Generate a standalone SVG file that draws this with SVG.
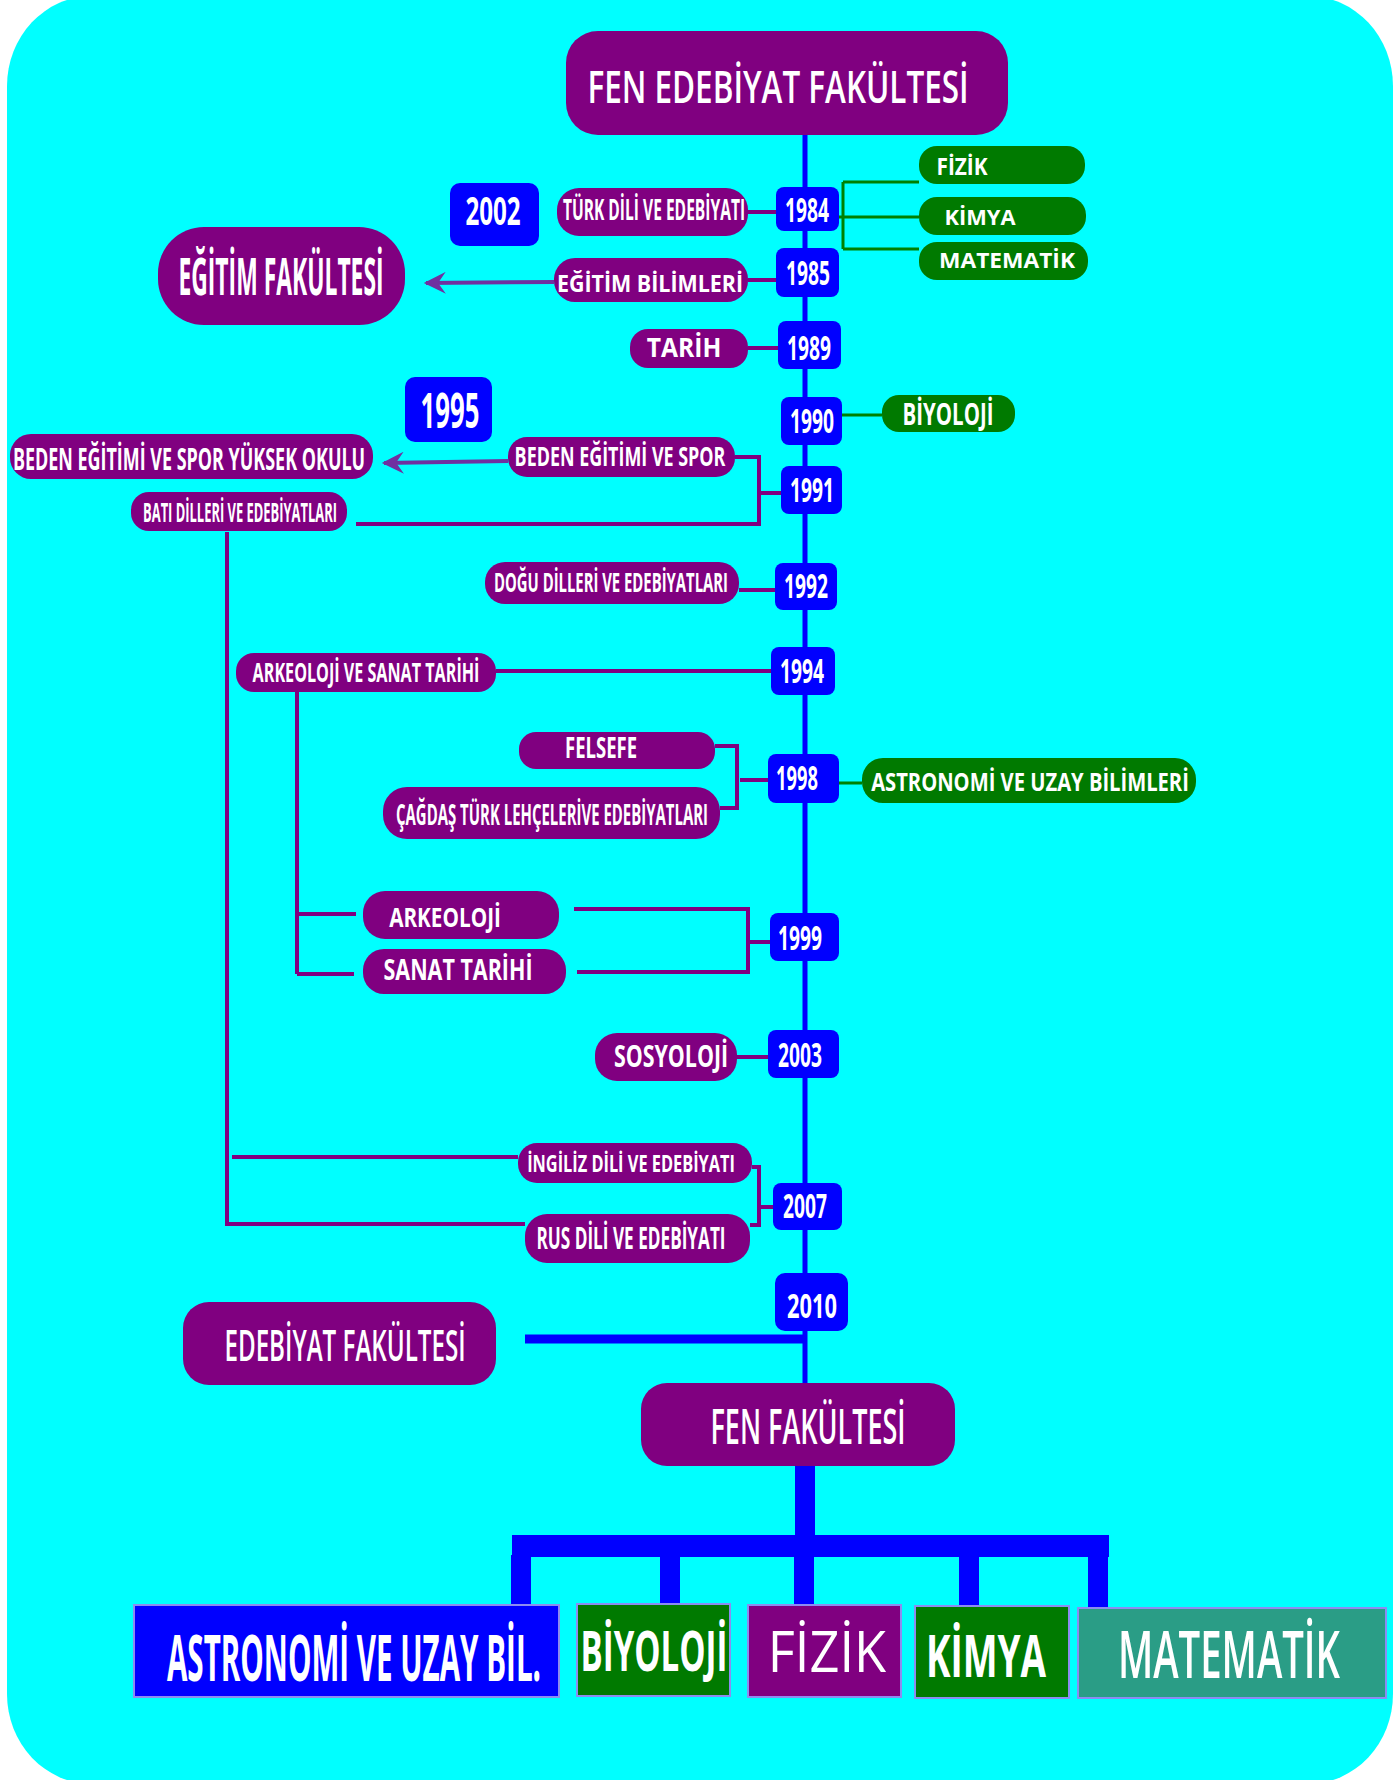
<svg xmlns="http://www.w3.org/2000/svg" width="1395" height="1780" viewBox="0 0 1395 1780">
<style>
.p{fill:#800080}
.g{fill:#007A00}
.b{fill:#0000FF}
.t{font-family:"Open Sans","Liberation Sans",sans-serif;font-weight:bold;fill:#fff;text-anchor:middle}
.n{font-weight:normal}
.m{font-weight:600}
.y{font-family:"Open Sans","Liberation Sans",sans-serif;font-weight:bold;fill:#fff;text-anchor:middle;font-size:34px}
.pl{stroke:#800080;stroke-width:4;fill:none}
.gl{stroke:#008000;stroke-width:3;fill:none}
.ar{stroke:#7030A0;stroke-width:4;fill:none}
.bx{stroke:#8C8CF0;stroke-width:2}
</style>
<defs>
<marker id="ah" viewBox="0 0 10 10" refX="9" refY="5" markerWidth="7.5" markerHeight="5.5" markerUnits="strokeWidth" orient="auto">
<path d="M10,5 L0,0 L3.5,5 L0,10 Z" fill="#7030A0"/>
</marker>
</defs>
<rect x="0" y="0" width="1395" height="1780" fill="#fff"/>
<rect x="7" y="-4" width="1386" height="1788" rx="85" ry="90" fill="#00FFFF"/>

<g id="connectors">
<line x1="805" y1="134" x2="805" y2="1385" stroke="#0000FF" stroke-width="5"/>
<path class="pl" d="M748,212 H776 M748,280 H776 M748,348 H778 M739,590 H775 M496,671 H771 M737,1057 H768"/>
<path class="pl" d="M735,457 H759 V524 H356 M759,493 H781"/>
<path class="pl" d="M227,532 V1224 H525 M232,1157 H518"/>
<path class="pl" d="M715,746 H737 V808 H720 M740,780 H768"/>
<path class="pl" d="M297,692 V974 M297,914 H356 M297,974 H354"/>
<path class="pl" d="M574,909 H748 V972 H577 M748,942 H770"/>
<path class="pl" d="M752,1167 H759 V1225 H750 M759,1207 H773"/>
<path class="gl" d="M843,182 V249 M843,182 H919 M839,217 H919 M843,249 H919"/>
<path class="gl" stroke-width="4" d="M842,415 H882 M839,783 H862"/>
<path class="ar" d="M554,282 L426,283" marker-end="url(#ah)"/>
<path class="ar" d="M508,461 L384,463" marker-end="url(#ah)"/>
<line x1="525" y1="1339" x2="805" y2="1339" stroke="#0000FF" stroke-width="9"/>
<rect x="795" y="1464" width="20" height="72" fill="#0000FF"/>
<rect x="512" y="1535" width="597" height="22" fill="#0000FF"/>
<rect x="511" y="1555" width="20" height="50" fill="#0000FF"/>
<rect x="660" y="1555" width="20" height="49" fill="#0000FF"/>
<rect x="794" y="1555" width="20" height="50" fill="#0000FF"/>
<rect x="959" y="1555" width="20" height="51" fill="#0000FF"/>
<rect x="1088" y="1555" width="20" height="53" fill="#0000FF"/>
</g>

<g id="n-fen-edebiyat"><rect class="p" x="566" y="31" width="442" height="104" rx="32"/><text class="t m" transform="translate(778,103) scale(0.61,1)" font-size="46" textLength="625" lengthAdjust="spacingAndGlyphs">FEN EDEBİYAT FAKÜLTESİ</text></g>

<g id="n-2002"><rect class="b" x="450" y="183" width="89" height="63" rx="10"/><text class="t" transform="translate(493,225) scale(0.6,1)" font-size="40" textLength="92" lengthAdjust="spacingAndGlyphs">2002</text></g>
<g id="n-1995"><rect class="b" x="405" y="377" width="87" height="65" rx="10"/><text class="t" transform="translate(450,428) scale(0.54,1)" font-size="48" textLength="109" lengthAdjust="spacingAndGlyphs">1995</text></g>

<g id="n-turk"><rect class="p" x="557" y="188" width="191" height="48" rx="22"/><text class="t" transform="translate(654,220) scale(0.46,1)" font-size="29" textLength="396" lengthAdjust="spacingAndGlyphs">TÜRK DİLİ VE EDEBİYATI</text></g>
<g id="n-egitim-bil"><rect class="p" x="554" y="258" width="194" height="44" rx="21"/><text class="t" transform="translate(650,292) scale(0.82,1)" font-size="23" textLength="227" lengthAdjust="spacingAndGlyphs">EĞİTİM BİLİMLERİ</text></g>
<g id="n-egitim-fak"><rect class="p" x="158" y="227" width="247" height="98" rx="46"/><text class="t" transform="translate(281,295) scale(0.4,1)" font-size="52" textLength="513" lengthAdjust="spacingAndGlyphs">EĞİTİM FAKÜLTESİ</text></g>
<g id="n-tarih"><rect class="p" x="630" y="329" width="118" height="39" rx="18"/><text class="t" transform="translate(684,357) scale(0.9,1)" font-size="27" textLength="83" lengthAdjust="spacingAndGlyphs">TARİH</text></g>
<g id="n-beden"><rect class="p" x="508" y="437" width="227" height="40" rx="19"/><text class="t" transform="translate(620,466) scale(0.62,1)" font-size="26" textLength="340" lengthAdjust="spacingAndGlyphs">BEDEN EĞİTİMİ VE SPOR</text></g>
<g id="n-beden-yo"><rect class="p" x="10" y="434" width="363" height="45" rx="21"/><text class="t" transform="translate(189,470) scale(0.56,1)" font-size="30" textLength="629" lengthAdjust="spacingAndGlyphs">BEDEN EĞİTİMİ VE SPOR YÜKSEK OKULU</text></g>
<g id="n-bati"><rect class="p" x="131" y="492" width="216" height="39" rx="18"/><text class="t" transform="translate(240,522) scale(0.41,1)" font-size="27" textLength="473" lengthAdjust="spacingAndGlyphs">BATI DİLLERİ VE EDEBİYATLARI</text></g>
<g id="n-dogu"><rect class="p" x="485" y="562" width="254" height="42" rx="20"/><text class="t" transform="translate(611,592) scale(0.5,1)" font-size="27" textLength="468" lengthAdjust="spacingAndGlyphs">DOĞU DİLLERİ VE EDEBİYATLARI</text></g>
<g id="n-ark-sanat"><rect class="p" x="236" y="653" width="260" height="39" rx="18"/><text class="t" transform="translate(366,682) scale(0.54,1)" font-size="27" textLength="420" lengthAdjust="spacingAndGlyphs">ARKEOLOJİ VE SANAT TARİHİ</text></g>
<g id="n-felsefe"><rect class="p" x="519" y="732" width="196" height="37" rx="17"/><text class="t" transform="translate(601,758) scale(0.59,1)" font-size="28" textLength="122" lengthAdjust="spacingAndGlyphs">FELSEFE</text></g>
<g id="n-cagdas"><rect class="p" x="383" y="787" width="337" height="52" rx="24"/><text class="t" transform="translate(552,825) scale(0.5,1)" font-size="28" textLength="624" lengthAdjust="spacingAndGlyphs">ÇAĞDAŞ TÜRK LEHÇELERİVE EDEBİYATLARI</text></g>
<g id="n-arkeoloji"><rect class="p" x="363" y="891" width="196" height="48" rx="22"/><text class="t" transform="translate(445,927) scale(0.74,1)" font-size="27" textLength="151" lengthAdjust="spacingAndGlyphs">ARKEOLOJİ</text></g>
<g id="n-sanat"><rect class="p" x="363" y="949" width="203" height="45" rx="21"/><text class="t" transform="translate(458,980) scale(0.72,1)" font-size="28" textLength="207" lengthAdjust="spacingAndGlyphs">SANAT TARİHİ</text></g>
<g id="n-sosyoloji"><rect class="p" x="595" y="1033" width="142" height="48" rx="22"/><text class="t" transform="translate(671,1067) scale(0.68,1)" font-size="30" textLength="168" lengthAdjust="spacingAndGlyphs">SOSYOLOJİ</text></g>
<g id="n-ingiliz"><rect class="p" x="518" y="1143" width="234" height="40" rx="19"/><text class="t" transform="translate(631,1172) scale(0.56,1)" font-size="24" textLength="371" lengthAdjust="spacingAndGlyphs">İNGİLİZ DİLİ VE EDEBİYATI</text></g>
<g id="n-rus"><rect class="p" x="525" y="1214" width="225" height="49" rx="22"/><text class="t" transform="translate(631,1249) scale(0.48,1)" font-size="30" textLength="394" lengthAdjust="spacingAndGlyphs">RUS DİLİ VE EDEBİYATI</text></g>
<g id="n-edebiyat-fak"><rect class="p" x="183" y="1302" width="313" height="83" rx="26"/><text class="t m" transform="translate(345,1361) scale(0.49,1)" font-size="44" textLength="492" lengthAdjust="spacingAndGlyphs">EDEBİYAT FAKÜLTESİ</text></g>
<g id="n-fen-fak"><rect class="p" x="641" y="1383" width="314" height="83" rx="26"/><text class="t m" transform="translate(808,1444) scale(0.5,1)" font-size="48" textLength="390" lengthAdjust="spacingAndGlyphs">FEN FAKÜLTESİ</text></g>

<g id="n-fizik-g"><rect class="g" x="919" y="146" width="166" height="38" rx="18"/><text class="t" transform="translate(962,175) scale(0.72,1)" font-size="23" textLength="71" lengthAdjust="spacingAndGlyphs">FİZİK</text></g>
<g id="n-kimya-g"><rect class="g" x="919" y="197" width="167" height="38" rx="18"/><text class="t" x="980" y="225" font-size="21" textLength="71" lengthAdjust="spacingAndGlyphs">KİMYA</text></g>
<g id="n-matematik-g"><rect class="g" x="919" y="242" width="169" height="38" rx="18"/><text class="t" x="1007" y="268" font-size="21" textLength="136" lengthAdjust="spacingAndGlyphs">MATEMATİK</text></g>
<g id="n-biyoloji-g"><rect class="g" x="882" y="395" width="133" height="37" rx="17"/><text class="t" transform="translate(948,425) scale(0.61,1)" font-size="30" textLength="149" lengthAdjust="spacingAndGlyphs">BİYOLOJİ</text></g>
<g id="n-astro-g"><rect class="g" x="862" y="758" width="334" height="45" rx="21"/><text class="t" transform="translate(1030,791) scale(0.76,1)" font-size="25" textLength="418" lengthAdjust="spacingAndGlyphs">ASTRONOMİ VE UZAY BİLİMLERİ</text></g>

<g id="y1984"><rect class="b" x="776" y="187" width="63" height="44" rx="8"/><text class="y" transform="translate(807,222) scale(0.53,1)" textLength="83" lengthAdjust="spacingAndGlyphs">1984</text></g>
<g id="y1985"><rect class="b" x="776" y="248" width="63" height="49" rx="8"/><text class="y" transform="translate(808,285) scale(0.53,1)" textLength="83" lengthAdjust="spacingAndGlyphs">1985</text></g>
<g id="y1989"><rect class="b" x="778" y="321" width="63" height="48" rx="8"/><text class="y" transform="translate(809,360) scale(0.53,1)" textLength="83" lengthAdjust="spacingAndGlyphs">1989</text></g>
<g id="y1990"><rect class="b" x="781" y="397" width="61" height="48" rx="8"/><text class="y" transform="translate(812,433) scale(0.53,1)" textLength="83" lengthAdjust="spacingAndGlyphs">1990</text></g>
<g id="y1991"><rect class="b" x="781" y="466" width="61" height="48" rx="8"/><text class="y" transform="translate(812,502) scale(0.53,1)" textLength="83" lengthAdjust="spacingAndGlyphs">1991</text></g>
<g id="y1992"><rect class="b" x="775" y="563" width="62" height="47" rx="8"/><text class="y" transform="translate(806,598) scale(0.53,1)" textLength="83" lengthAdjust="spacingAndGlyphs">1992</text></g>
<g id="y1994"><rect class="b" x="771" y="647" width="64" height="48" rx="8"/><text class="y" transform="translate(802,683) scale(0.53,1)" textLength="83" lengthAdjust="spacingAndGlyphs">1994</text></g>
<g id="y1998"><rect class="b" x="768" y="754" width="71" height="49" rx="8"/><text class="y" transform="translate(797,790) scale(0.53,1)" textLength="79" lengthAdjust="spacingAndGlyphs">1998</text></g>
<g id="y1999"><rect class="b" x="770" y="913" width="69" height="48" rx="8"/><text class="y" transform="translate(800,950) scale(0.53,1)" textLength="83" lengthAdjust="spacingAndGlyphs">1999</text></g>
<g id="y2003"><rect class="b" x="768" y="1030" width="71" height="48" rx="8"/><text class="y" transform="translate(800,1067) scale(0.53,1)" textLength="83" lengthAdjust="spacingAndGlyphs">2003</text></g>
<g id="y2007"><rect class="b" x="773" y="1183" width="69" height="47" rx="8"/><text class="y" transform="translate(805,1218) scale(0.53,1)" textLength="83" lengthAdjust="spacingAndGlyphs">2007</text></g>
<g id="y2010"><rect class="b" x="775" y="1273" width="73" height="58" rx="10"/><text class="y" transform="translate(812,1318) scale(0.52,1)" font-size="40" textLength="96" lengthAdjust="spacingAndGlyphs">2010</text></g>

<g id="b-astro"><rect class="bx" x="134" y="1605" width="425" height="92" fill="#0000FF"/><text class="t" transform="translate(354,1681) scale(0.43,1)" font-size="64" textLength="870" lengthAdjust="spacingAndGlyphs">ASTRONOMİ VE UZAY BİL.</text></g>
<g id="b-biyoloji"><rect class="bx" x="577" y="1604" width="153" height="92" fill="#007A00"/><text class="t" transform="translate(654,1671) scale(0.53,1)" font-size="56" textLength="277" lengthAdjust="spacingAndGlyphs">BİYOLOJİ</text></g>
<g id="b-fizik"><rect class="bx" x="748" y="1605" width="153" height="92" fill="#800080"/><text class="t n" transform="translate(827,1672) scale(0.68,1)" font-size="56" textLength="174" lengthAdjust="spacingAndGlyphs">FİZİK</text></g>
<g id="b-kimya"><rect class="bx" x="915" y="1606" width="154" height="92" fill="#007A00"/><text class="t" transform="translate(986,1677) scale(0.65,1)" font-size="60" textLength="185" lengthAdjust="spacingAndGlyphs">KİMYA</text></g>
<g id="b-matematik"><rect class="bx" x="1078" y="1608" width="308" height="90" fill="#2A9D86"/><text class="t m" transform="translate(1229,1678) scale(0.6,1)" font-size="66" textLength="370" lengthAdjust="spacingAndGlyphs">MATEMATİK</text></g>
</svg>
